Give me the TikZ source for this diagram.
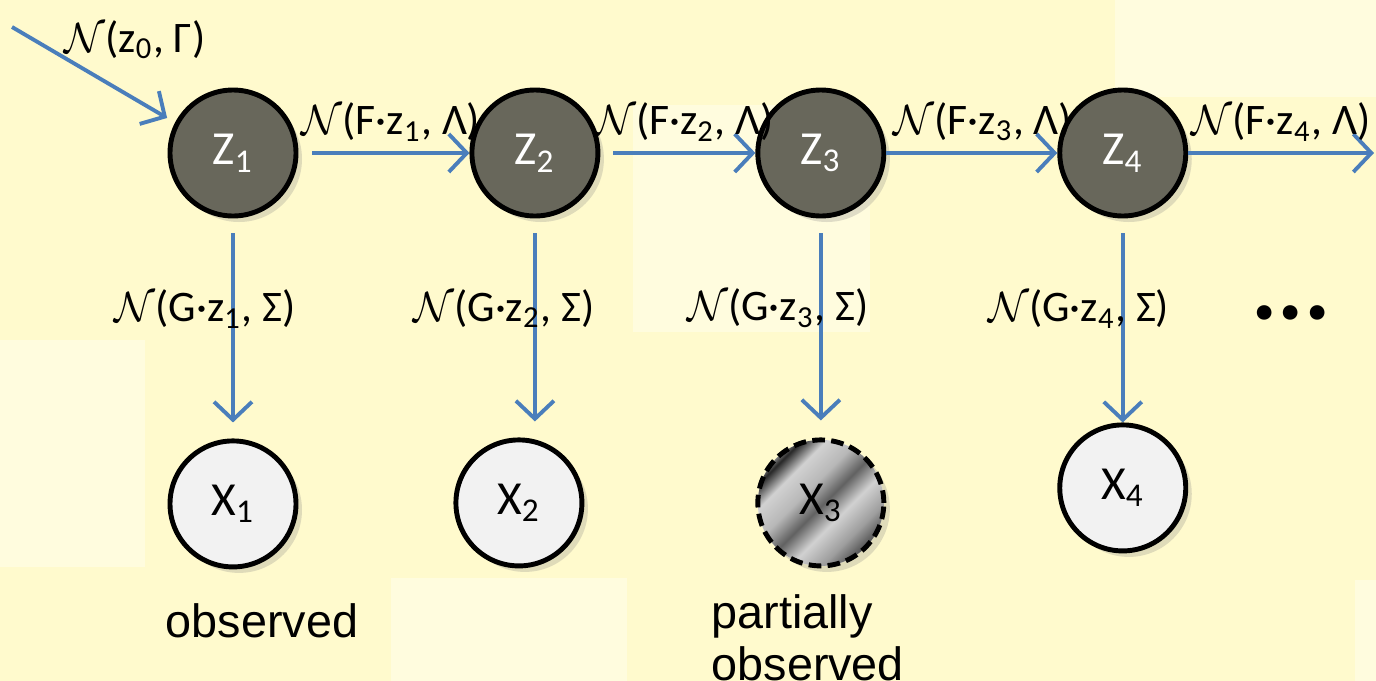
\documentclass[tikz,border=0pt]{standalone}
\usepackage{fontspec}
\setmainfont{Carlito}
\newfontfamily\arialfont{Liberation Sans}
\usetikzlibrary{arrows.meta,positioning,calc,shadows}
\definecolor{paper}{RGB}{255,250,205}
\definecolor{patch}{RGB}{255,252,222}
\definecolor{zfill}{RGB}{104,103,91}
\definecolor{xfill}{RGB}{242,242,242}
\definecolor{arrowblue}{RGB}{74,126,187}
\pgfdeclarehorizontalshading{metal}{100bp}{color(0bp)=(white); color(21bp)=(white); color(27bp)=(black!85); color(34bp)=(black!18); color(43bp)=(black!28); color(51bp)=(black!62); color(59bp)=(black!18); color(68bp)=(black!38); color(75bp)=(black!68); color(82bp)=(black!30); color(100bp)=(black!30)}
\newcommand{\gauss}{$\mathcal{N}$}

\begin{document}
\begin{tikzpicture}[
		every node/.style={font=\fontsize{13.5}{15}\selectfont},
		hidden/.style={circle, draw=black, line width=1.4pt, minimum size=12.6mm, inner sep=0pt, fill=zfill, text=white,
			drop shadow={shadow xshift=0.6mm, shadow yshift=-0.6mm, opacity=0.25}},
		seen/.style={hidden, fill=xfill, text=black},
		halfseen/.style={seen, dash pattern=on 3.6pt off 1.8pt, shading=metal, shading angle=-45},
		lbl/.style={inner sep=0pt, font=\fontsize{12.4}{14}\selectfont},
		note/.style={inner sep=0pt, align=left, font=\arialfont\fontsize{13.3}{14.6}\selectfont},
		barrow/.style={-{Straight Barb[length=1.8mm, width=3.8mm]}, line width=1.1pt, draw=arrowblue}
	]
		% background and its lighter patches
		\path[use as bounding box, fill=paper] (0,0) rectangle (13.76,-6.81);
		\fill[patch] (0,-3.40) rectangle (1.45,-5.67);
		\fill[patch] (3.91,-5.78) rectangle (6.27,-6.81);
		\fill[patch] (6.33,-1.05) rectangle (8.70,-3.32);
		\fill[patch] (11.15,0) rectangle (13.76,-0.97);
		\fill[patch] (13.55,-5.80) rectangle (13.76,-6.81);

		% hidden chain
		\node[hidden] (z1) at (2.33,-1.53) {Z\textsubscript{1}};
		\node[hidden, right=17.1mm of z1] (z2) {Z\textsubscript{2}};
		\node[hidden, right=15.5mm of z2] (z3) {Z\textsubscript{3}};
		\node[hidden, right=17.1mm of z3] (z4) {Z\textsubscript{4}};

		% observations
		\node[seen, below=22mm of z1] (x1) {X\textsubscript{1}};
		\node[seen, below=21.9mm of z2, xshift=-1.6mm] (x2) {X\textsubscript{2}};
		\node[halfseen, below=21.9mm of z3] (x3) {X\textsubscript{3}};
		\node[seen, below=20.4mm of z4] (x4) {X\textsubscript{4}};

		\coordinate (prior) at (0.12,-0.27);
		\coordinate (tail) at (13.74,-1.53);
		\node[lbl] (g0) at (1.35,-0.40) {\gauss(z\textsubscript{0}, Γ)};
		\draw[barrow] (prior) -- ($(z1)!1.14!(z1.152)$);

		\draw[barrow] ([xshift=1.4mm]z1.east) -- (z2)
			node[lbl, midway, above=1mm] (f1) {\gauss(F·z\textsubscript{1}, Λ)};
		\draw[barrow] ([xshift=1.3mm]z2.east) -- (z3)
			node[lbl, midway, above=1mm] (f2) {\gauss(F·z\textsubscript{2}, Λ)};
		\draw[barrow] (z3) -- (z4)
			node[lbl, midway, above=1mm, xshift=1.1mm] (f3) {\gauss(F·z\textsubscript{3}, Λ)};
		\draw[barrow] (z4) -- (tail)
			node[lbl, midway, above=1mm] (f4) {\gauss(F·z\textsubscript{4}, Λ)};

		\draw[barrow] ([yshift=-1.5mm]z1.south) -- ([yshift=1.6mm]x1.north)
			node[lbl, pos=0.4, xshift=-2.8mm] (g1) {\gauss(G·z\textsubscript{1}, Σ)};
		\draw[barrow] ([yshift=-1.5mm]z2.south) -- ($(z2.south |- x2.north)+(0,1.6mm)$)
			node[lbl, pos=0.4, xshift=-3.1mm] (g2) {\gauss(G·z\textsubscript{2}, Σ)};
		\draw[barrow] ([yshift=-1.5mm]z3.south) -- ([yshift=1.7mm]x3.north)
			node[lbl, pos=0.4, xshift=-4.3mm] (g3) {\gauss(G·z\textsubscript{3}, Σ)};
		\draw[barrow] ([yshift=-1.5mm]z4.south) -- (x4.north)
			node[lbl, pos=0.4, xshift=-4.4mm] (g4) {\gauss(G·z\textsubscript{4}, Σ)};

		\node[font=\bfseries\fontsize{28}{28}\selectfont] (more) at (12.91,-3.13) {...};

		\node[note, below=3.4mm of x1, xshift=2.9mm] (obs) {observed};
		\node[note, below=2.6mm of x3, xshift=-1.3mm] (partobs) {partially\\observed};
	\end{tikzpicture}
\end{document}
